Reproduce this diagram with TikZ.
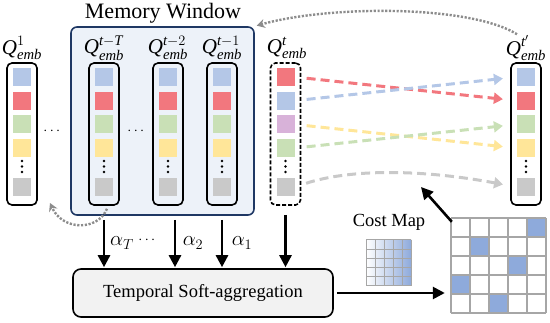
\documentclass[tikz,border=0pt]{standalone}
\usepackage{amsmath}
\usepackage{fontspec}
\setmainfont{Liberation Serif}
\usetikzlibrary{arrows.meta}
\definecolor{qblue}{HTML}{B4C7E7}
\definecolor{qred}{HTML}{F2777E}
\definecolor{qgreen}{HTML}{C9E0B6}
\definecolor{qyellow}{HTML}{FFE699}
\definecolor{qgray}{HTML}{C9C9C9}
\definecolor{qpurple}{HTML}{D8B2D9}
\definecolor{mwfill}{HTML}{EDF2F9}
\definecolor{mwborder}{HTML}{1F3864}
\definecolor{aggfill}{HTML}{F2F2F2}
\definecolor{mapblue}{HTML}{8EAADB}
\definecolor{mapline}{HTML}{A6A6A6}
\definecolor{recurgray}{HTML}{8C8C8C}
\newcommand\qemb[1]{$\textit{Q}^{#1}_{\textit{emb}}$}
\tikzset{
  cell/.style={minimum size=18pt, inner sep=0pt, fill=#1},
  col/.style={draw, line width=1.6pt, rounded corners=5pt, minimum width=30pt, minimum height=142pt, inner sep=0pt},
  qlabel/.style={font=\fontsize{21}{24}\selectfont, inner sep=0pt},
  match/.style={line width=3pt, dash pattern=on 9pt off 5pt, draw=#1, -{Triangle[width=11pt,length=9pt,fill=#1]}, shorten <=12pt, shorten >=14pt},
  feed/.style={line width=2.6pt, -{Triangle[width=12pt,length=12pt]}},
  recur/.style={recurgray, line width=2.4pt, dash pattern=on 2.2pt off 1.6pt, -{Stealth[length=8pt,width=9pt]}},
}
\begin{document}
\begin{tikzpicture}[x=1pt, y=-1pt]
  \useasboundingbox (0,0) rectangle (550,323);
  \node[draw=mwborder, fill=mwfill, line width=1.6pt, rounded corners=6pt, minimum width=183pt, minimum height=188pt] (mem) at (162.5,121) {};
  \node[font=\fontsize{22}{24}\selectfont] (memtitle) at (163,13) {Memory Window};
  \foreach \n/\x in {first/22, tT/104, tm2/168, tm1/222, nxt/526} {
    \node[col] (\n) at (\x,134) {};
    \foreach \c [count=\i] in {qblue,qred,qgreen,qyellow}
      \node[cell=\c] (\n\i) at (\x,{77+23.7*(\i-1)}) {};
    \foreach \y in {161,166.5,172}
      \fill (\x,\y) circle (1.3pt);
    \node[cell=qgray] (\n6) at (\x,187) {};
  }
  \node[col, dash pattern=on 4pt off 2pt] (cur) at (285.5,134) {};
  \foreach \c [count=\i] in {qred,qblue,qpurple,qgreen}
    \node[cell=\c] (cur\i) at (285.5,{77+23.7*(\i-1)}) {};
  \foreach \y in {161,166.5,172}
    \fill (285.5,\y) circle (1.3pt);
  \node[cell=qgray] (cur6) at (285.5,187) {};
  \node[qlabel] (lfirst) at (22,48) {\qemb{1}};
  \node[qlabel] (ltT) at (104,48) {\qemb{\textit{t}-\textit{T}}};
  \node[qlabel] (ltm2) at (168,48) {\qemb{\textit{t}-2}};
  \node[qlabel] (ltm1) at (222,48) {\qemb{\textit{t}-1}};
  \node[qlabel] (lcur) at (287,48) {\qemb{\textit{t}}};
  \node[qlabel] (lnxt) at (526,48) {\qemb{\textit{t}'}};
  \node[font=\fontsize{14}{14}\selectfont] (hdots1) at (53,131) {$\cdots$};
  \node[font=\fontsize{14}{14}\selectfont] (hdots2) at (137,131) {$\cdots$};
  \draw[match=qred] (cur1.east) -- (nxt2.west);
  \draw[match=qblue] (cur2.east) -- (nxt1.west);
  \draw[match=qyellow] (cur3.east) -- (nxt4.west);
  \draw[match=qgreen] (cur4.east) -- (nxt3.west);
  \draw[match=qgray] (cur6.east) .. controls (350,169) and (420,169) .. (nxt6.west);
  \draw[recur, shorten >=2pt] ([xshift=-9pt,yshift=1pt]lnxt.north) .. controls (470,5) and (330,5) .. (mem.north east);
  \coordinate (backin) at (50,203);
  \draw[recur] ([xshift=3pt,yshift=-3pt]tT.south) .. controls (97,232) and (62,230) .. (backin);
  \node[draw, fill=aggfill, line width=1.6pt, rounded corners=8pt, minimum width=260pt, minimum height=48pt, font=\fontsize{18.5}{22}\selectfont] (agg) at (203,293) {Temporal Soft-aggregation};
  \coordinate (a2) at ([xshift=7pt]tm2.south);
  \draw[feed, shorten <=4pt, shorten >=1pt] (mem.south -| tT) -- (agg.north -| tT);
  \draw[feed, shorten <=4pt, shorten >=1pt] (mem.south -| a2) -- (agg.north -| a2);
  \draw[feed, shorten <=4pt, shorten >=1pt] (mem.south -| tm1) -- (agg.north -| tm1);
  \draw[feed, shorten <=9pt, shorten >=1pt] (cur.south) -- (agg.north -| cur);
  \node[font=\fontsize{22}{24}\selectfont] (aT) at (122,243) {$\alpha_T$};
  \node[font=\fontsize{14}{14}\selectfont] (adots) at (148,240) {$\cdots$};
  \node[font=\fontsize{22}{24}\selectfont] (a2l) at (193,243) {$\alpha_2$};
  \node[font=\fontsize{22}{24}\selectfont] (a1l) at (242,243) {$\alpha_1$};
  \node[font=\fontsize{18.5}{22}\selectfont] (costlabel) at (389,222) {Cost Map};
  \shade[left color=white, right color=mapblue] (366,240) rectangle (411,286);
  \foreach \i in {0,...,5} {
    \draw[mapline, line width=1pt] ({366+9*\i},240) -- ({366+9*\i},286);
    \draw[mapline, line width=1pt] (366,{240+9.2*\i}) -- (411,{240+9.2*\i});
  }
  \node[minimum size=95pt, inner sep=0pt] (grid) at (498.5,265.5) {};
  \foreach \r/\c in {1/5, 2/2, 3/4, 4/1, 5/3}
    \fill[mapblue] ({451+19*(\c-1)},{218+19*(\r-1)}) rectangle ++(19,19);
  \foreach \i in {0,...,5} {
    \draw[mapline, line width=1.6pt] ({451+19*\i},218) -- ({451+19*\i},313);
    \draw[mapline, line width=1.6pt] (451,{218+19*\i}) -- (546,{218+19*\i});
  }
  \draw[feed, shorten <=3pt, shorten >=6pt] (agg.east) -- (agg.east -| grid.west);
  \coordinate (costin) at (421,187);
  \draw[feed] ([shift={(1pt,-4pt)}]grid.north west) -- (costin);
\end{tikzpicture}
\end{document}
